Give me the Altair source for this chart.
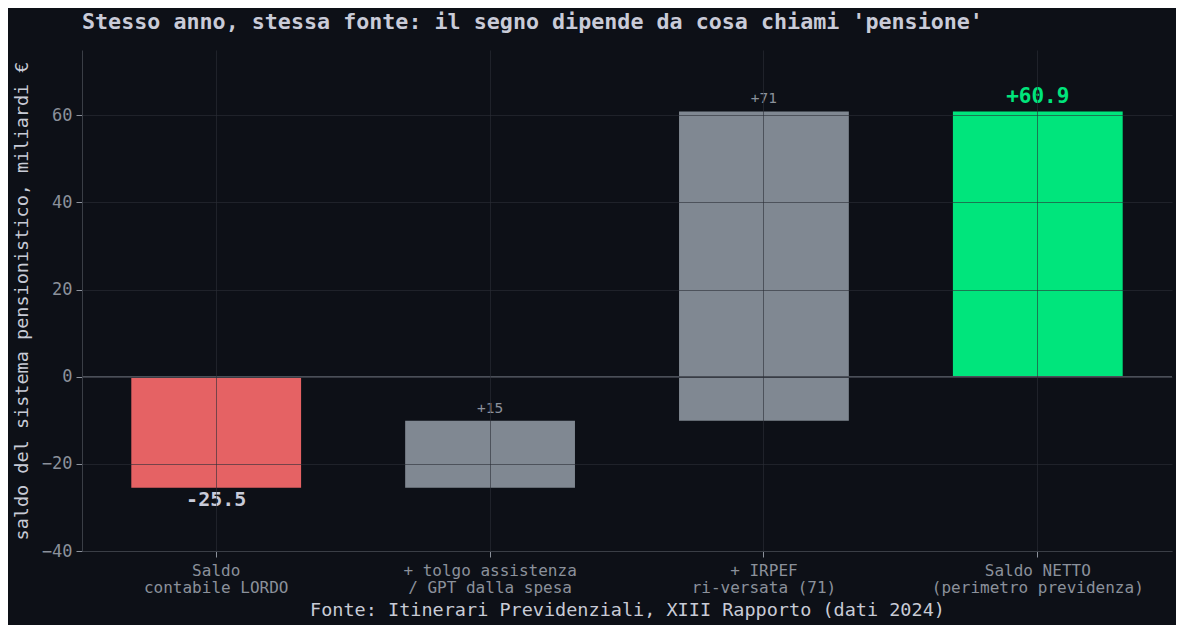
import altair as alt
import pandas as pd

categories = ["Saldo|contabile LORDO", "+ tolgo assistenza|/ GPT dalla spesa",
              "+ IRPEF|ri-versata (71)", "Saldo NETTO|(perimetro previdenza)"]
steps = [-25.5, 15.4, 71.0, 60.9]
kinds = ["total", "delta", "delta", "total"]
bar_colors = ["#e56264", "#808892", "#808892", "#00e57c"]
labels = ["-25.5", "+15", "+71", "+60.9"]

rows = []
run = 0.0
for c, s, k, col, lab in zip(categories, steps, kinds, bar_colors, labels):
    if k == "total":
        start, end = 0.0, s
        run = s
    else:
        start, end = run, run + s
        run = end
    rows.append({"cat": c, "start": start, "end": end, "color": col, "label": lab,
                 "top": max(start, end), "bottom": min(start, end)})
df = pd.DataFrame(rows)

FONT = "DejaVu Sans Mono"
BG = "#0d1017"
GRID = "#2b2f37"

xenc = alt.X("cat:N", sort=categories,
             scale=alt.Scale(paddingInner=0.38, paddingOuter=0.18),
             axis=alt.Axis(title="Fonte: Itinerari Previdenziali, XIII Rapporto (dati 2024)",
                           labelExpr="split(datum.label, '|')", labelAngle=0, labelLimit=1000,
                           labelFont=FONT, labelFontSize=16, labelColor="#8b919b",
                           labelLineHeight=17, labelPadding=5,
                           titleFont=FONT, titleFontSize=18.5, titleFontWeight="normal",
                           titleColor="#c8cbd6", titlePadding=5,
                           grid=True, gridColor=GRID, gridOpacity=0.6, bandPosition=0.5,
                           domainColor="#3a3e46", tickColor="#8b919b", tickSize=6,
                           zindex=1))

yscale = alt.Scale(domain=[-40, 75], nice=False, zero=False)

bars = alt.Chart(df).mark_bar().encode(
    x=xenc,
    y=alt.Y("start:Q", scale=yscale,
            axis=alt.Axis(title="saldo del sistema pensionistico, miliardi €",
                          values=[-40, -20, 0, 20, 40, 60], labelExpr="replace(datum.label, '-', '−')",
                          labelFont=FONT, labelFontSize=17, labelColor="#8b919b", labelPadding=4,
                          titleFont=FONT, titleFontSize=18.5, titleFontWeight="normal",
                          titleColor="#c8cbd6", titlePadding=10,
                          grid=True, gridColor=GRID, gridOpacity=0.6,
                          domainColor="#3a3e46", tickColor="#8b919b", tickSize=6,
                          zindex=1)),
    y2="end:Q",
    color=alt.Color("color:N", scale=None),
)

zero = alt.Chart(df).mark_rule(color="#4a4f58", strokeWidth=1.5).encode(y=alt.datum(0))

lab_neg = alt.Chart(df[df["cat"] == categories[0]]).mark_text(
    font=FONT, fontSize=20, fontWeight="bold", color="#c8cbd9", baseline="top", dy=2
).encode(x=alt.X("cat:N", sort=categories), y="bottom:Q", text="label:N")

lab_small = alt.Chart(df[df["cat"].isin(categories[1:3])]).mark_text(
    font=FONT, fontSize=14.5, color="#8b919b", baseline="bottom", dy=-5
).encode(x=alt.X("cat:N", sort=categories), y="top:Q", text="label:N")

lab_net = alt.Chart(df[df["cat"] == categories[3]]).mark_text(
    font=FONT, fontSize=21, fontWeight="bold", color="#00e57c", baseline="bottom", dy=-4
).encode(x=alt.X("cat:N", sort=categories), y="top:Q", text="label:N")

chart = alt.layer(bars, zero, lab_neg, lab_small, lab_net).properties(
    width=1090, height=501,
    background=BG,
    padding={"left": 74, "top": 42, "right": 4, "bottom": 74},
    autosize=alt.AutoSizeParams(type="none"),
    title=alt.TitleParams("Stesso anno, stessa fonte: il segno dipende da cosa chiami 'pensione'",
                          anchor="start", frame="group", font=FONT, fontSize=21.7,
                          fontWeight="bold", color="#c9cbd8", offset=16),
).configure_view(stroke="transparent", strokeWidth=0)

chart.save("out.html", embed_options={"renderer": "svg", "actions": False})
